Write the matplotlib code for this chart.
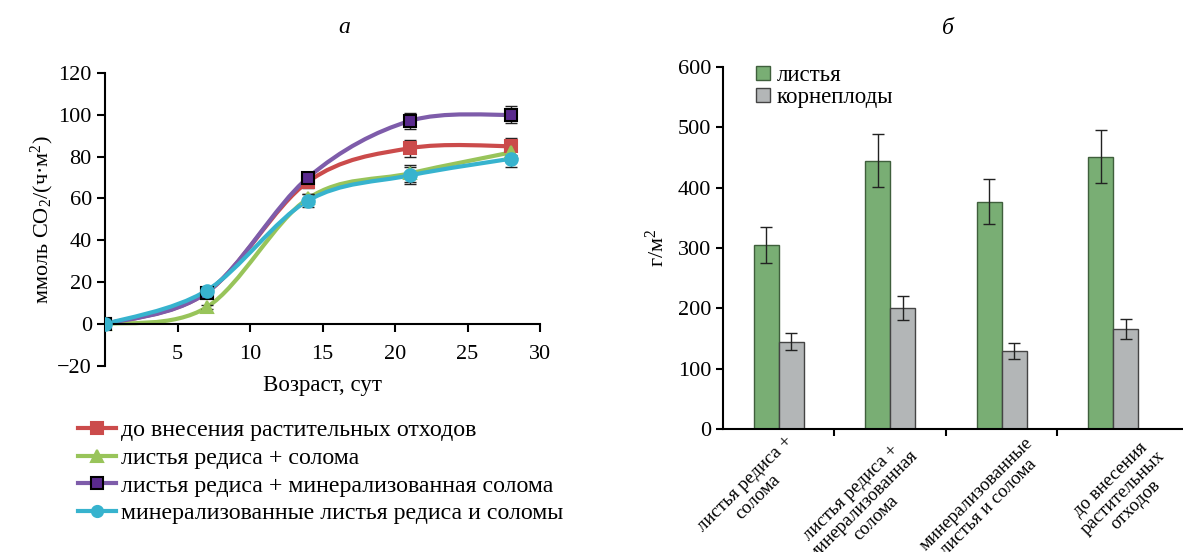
import numpy as np
import matplotlib
matplotlib.use("Agg")
import matplotlib.pyplot as plt
from matplotlib.path import Path
from matplotlib.patches import PathPatch
from matplotlib.lines import Line2D

plt.rcParams['font.family'] = ['Liberation Serif', 'DejaVu Serif']
plt.rcParams['mathtext.fontset'] = 'custom'
plt.rcParams['mathtext.rm'] = 'Liberation Serif'
plt.rcParams['mathtext.it'] = 'Liberation Serif:italic'

# --- data: panel a ---
days = [0, 7, 14, 21, 28]
series_names = ['до внесения растительных отходов',
                'листья редиса + солома',
                'листья редиса + минерализованная солома',
                'минерализованные листья редиса и соломы']
co2_before = [0, 15, 68, 84, 85]
co2_leaves_straw = [0, 8, 60, 72, 82]
co2_leaves_minstraw = [0, 15, 70, 97, 100]
co2_min_both = [0, 16, 59, 71, 79]
err_before = [0, 1, 3, 4, 4]
err_leaves_straw = [0, 1, 2, 4, 3]
err_leaves_minstraw = [0, 1, 2, 4, 4]
err_min_both = [0, 1, 3, 4, 4]

# --- data: panel b ---
categories = ['листья редиса +\nсолома',
              'листья редиса +\nминерализованная\nсолома',
              'минерализованные\nлистья и солома',
              'до внесения\nрастительных\nотходов']
leaves = [305, 445, 377, 451]
leaves_err = [30, 44, 37, 44]
roots = [145, 201, 129, 166]
roots_err = [14, 20, 13, 17]


def smooth_path(x, y):
    # Excel-like smoothed line (Catmull-Rom as cubic Bezier)
    pts = np.column_stack([x, y]).astype(float)
    n = len(pts)
    verts = [pts[0]]
    codes = [Path.MOVETO]
    for i in range(n - 1):
        p0 = pts[i - 1] if i > 0 else pts[i]
        p1, p2 = pts[i], pts[i + 1]
        p3 = pts[i + 2] if i + 2 < n else pts[i + 1]
        verts += [p1 + (p2 - p0) / 6, p2 - (p3 - p1) / 6, p2]
        codes += [Path.CURVE4] * 3
    return Path(verts, codes)


fig = plt.figure(figsize=(11.83, 5.52), dpi=100)

# ---------------- panel a ----------------
ax = fig.add_axes([0.0888, 0.337, 0.3677, 0.531])
styles = [
    (co2_before, err_before, '#CB4B4B', 's', '#CB4B4B', '#CB4B4B'),
    (co2_leaves_straw, err_leaves_straw, '#98C45A', '^', '#98C45A', '#98C45A'),
    (co2_leaves_minstraw, err_leaves_minstraw, '#7E5CAA', 's', '#5A2A8E', 'black'),
    (co2_min_both, err_min_both, '#37B3CE', 'o', '#37B3CE', '#37B3CE'),
]
handles = []
for vals, errs, lc, mk, mfc, mec in styles:
    ax.add_patch(PathPatch(smooth_path(days, vals), facecolor='none',
                           edgecolor=lc, lw=3, zorder=2))
    ax.errorbar(days, vals, yerr=errs, fmt='none', ecolor='#222222',
                elinewidth=1, capsize=4, zorder=3)
    ax.plot(days, vals, ls='none', marker=mk, ms=9, mfc=mfc, mec=mec,
            mew=1.5, zorder=4)
    handles.append(Line2D([], [], color=lc, lw=3, marker=mk, ms=8,
                          mfc=mfc, mec=mec, mew=1.5))

ax.set_xlim(0, 30)
ax.set_ylim(-20, 120)
ax.set_xticks([5, 10, 15, 20, 25, 30])
ax.set_yticks(range(-20, 121, 20))
ax.spines['top'].set_visible(False)
ax.spines['right'].set_visible(False)
ax.spines['bottom'].set_position(('data', 0))
ax.spines['left'].set_linewidth(1.5)
ax.spines['bottom'].set_linewidth(1.5)
ax.tick_params(axis='both', labelsize=16, direction='out', length=6, width=1.5)
ax.tick_params(axis='x', pad=9)
ax.set_xlabel('Возраст, сут', fontsize=16.5, labelpad=8)
ax.set_ylabel('ммоль CO$_2$/(ч·м$^2$)', fontsize=16, labelpad=1)
ax.set_title('а', fontsize=17, style='italic', pad=29, x=0.55)

fig.legend(handles, series_names, loc='upper left',
           bbox_to_anchor=(0.058, 0.257), frameon=False, fontsize=17.2,
           handlelength=1.6, handletextpad=0.2, labelspacing=0.25,
           borderaxespad=0)

# ---------------- panel b ----------------
bx = fig.add_axes([0.611, 0.2228, 0.389, 0.6558])
x = np.arange(len(categories))
w = 0.224
bx.bar(x - w / 2, leaves, w, color='#79AE74', edgecolor='#3F5F3C', lw=1,
       label='листья', zorder=2)
bx.bar(x + w / 2, roots, w, color='#B3B6B7', edgecolor='#444444', lw=1,
       label='корнеплоды', zorder=2)
bx.errorbar(x - w / 2, leaves, yerr=leaves_err, fmt='none', ecolor='#222222',
            elinewidth=1, capsize=4, zorder=3)
bx.errorbar(x + w / 2, roots, yerr=roots_err, fmt='none', ecolor='#222222',
            elinewidth=1, capsize=4, zorder=3)
bx.set_xlim(-0.5, 3.626)
bx.set_ylim(0, 600)
bx.set_yticks(range(0, 601, 100))
bx.set_xticks(x)
bx.set_xticklabels([])
# rotated category labels, nudged (in points) to sit like in the original
shifts = [(4, -3), (5, -4), (16, -4), (22, -4)]
for i, (lab, (dx, dy)) in enumerate(zip(categories, shifts)):
    bx.annotate(lab, xy=(i, 0), xycoords=('data', 'axes fraction'),
                xytext=(dx, dy), textcoords='offset points',
                rotation=45, ha='right', va='top', rotation_mode='anchor',
                multialignment='center', fontsize=13.5, linespacing=1.05,
                annotation_clip=False)
bx.set_xticks([0.5, 1.5, 2.5], minor=True)
bx.tick_params(axis='x', which='major', length=0)
bx.tick_params(axis='x', which='minor', length=5, width=1.5)
bx.tick_params(axis='y', labelsize=16, length=5, width=1.5)
bx.spines['top'].set_visible(False)
bx.spines['right'].set_visible(False)
bx.spines['left'].set_linewidth(1.5)
bx.spines['bottom'].set_linewidth(1.5)
bx.set_ylabel('г/м$^2$', fontsize=16, labelpad=6)
bx.set_title('б', fontsize=17, style='italic', pad=24, x=0.49)
bx.legend(loc='upper left', bbox_to_anchor=(0.052, 1.031), frameon=False,
          fontsize=16.5, handlelength=0.6, handleheight=0.6,
          handletextpad=0.3, labelspacing=0.05, borderaxespad=0)

fig.savefig('out.png', dpi=100)
